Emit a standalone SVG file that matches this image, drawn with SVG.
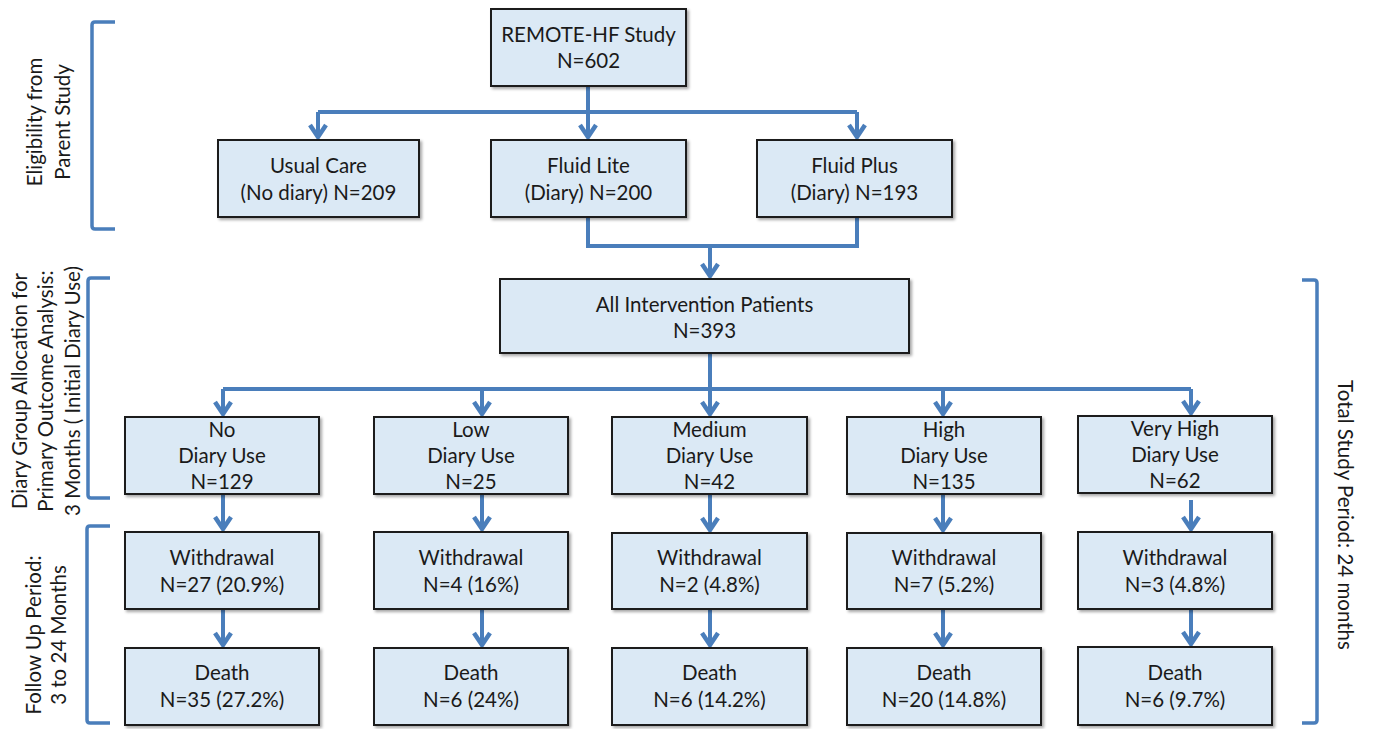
<svg xmlns="http://www.w3.org/2000/svg" width="1373" height="729" viewBox="0 0 1373 729">
<defs>
<style>
.box{fill:#dbe9f5;stroke:#1a1a1a;stroke-width:2;filter:url(#sh)}
.t{font-family:Lato,"Open Sans","Liberation Sans",sans-serif;font-size:20.5px;fill:#1a1a1a;text-anchor:middle}
.c{fill:none;stroke:#4a7ebb;stroke-width:4}
.a{marker-end:url(#arr)}
.br{fill:none;stroke:#4a7ebb;stroke-width:3.5;stroke-linejoin:round}
</style>
<filter id="sh" x="-5%" y="-5%" width="115%" height="120%">
<feDropShadow dx="2" dy="2" stdDeviation="1.5" flood-color="#000" flood-opacity="0.35"/>
</filter>
<marker id="arr" viewBox="-16 -11 20 22" refX="0" refY="0" markerWidth="20" markerHeight="22" markerUnits="userSpaceOnUse" orient="auto">
<path d="M-13,-8 L-1,0 L-13,8" fill="none" stroke="#4a7ebb" stroke-width="4.5" stroke-linejoin="miter"/>
</marker>
</defs>
<rect width="1373" height="729" fill="#fff"/>

<g id="brackets">
<path class="br" d="M115,22 H95 Q92,22 92,25 V226 Q92,229 95,229 H115"/>
<path class="br" d="M110,278 H91 Q88,278 88,281 V495 Q88,498 91,498 H110"/>
<path class="br" d="M110,526 H90 Q87,526 87,529 V720 Q87,723 90,723 H110"/>
<path class="br" d="M1302,280 H1314 Q1317,280 1317,283 V720 Q1317,723 1314,723 H1302"/>
</g>

<g id="side-labels">
<text class="t" transform="translate(42,122) rotate(-90)">Eligibility from</text>
<text class="t" transform="translate(70,122) rotate(-90)">Parent Study</text>
<text class="t" transform="translate(27,391) rotate(-90)">Diary Group Allocation  for</text>
<text class="t" transform="translate(53,391) rotate(-90)">Primary Outcome Analysis:</text>
<text class="t" transform="translate(80,391) rotate(-90)">3 Months ( Initial Diary Use)</text>
<text class="t" transform="translate(41,635) rotate(-90)">Follow Up Period:</text>
<text class="t" transform="translate(66,635) rotate(-90)">3 to 24 Months</text>
<text class="t" transform="translate(1338,515) rotate(90)">Total Study Period: 24 months</text>
</g>

<g id="connectors">
<path class="c" d="M318,112 H857"/>
<path class="c a" d="M588,86 V138"/>
<path class="c a" d="M318,112 V138"/>
<path class="c a" d="M857,112 V138"/>
<path class="c" d="M588,217 V246 H857 V217"/>
<path class="c a" d="M710,246 V277"/>
<path class="c" d="M710,353 V389"/>
<path class="c" d="M223,389 H1191"/>
<path class="c a" d="M223,389 V415"/>
<path class="c a" d="M482,389 V415"/>
<path class="c a" d="M710,389 V415"/>
<path class="c a" d="M943,389 V415"/>
<path class="c a" d="M1191,389 V414"/>
<path class="c a" d="M223,494 V530"/>
<path class="c a" d="M482,494 V530"/>
<path class="c a" d="M710,494 V531"/>
<path class="c a" d="M943,494 V531"/>
<path class="c a" d="M1191,500 V530"/>
<path class="c a" d="M223,609 V646"/>
<path class="c a" d="M482,609 V646"/>
<path class="c a" d="M710,609 V646"/>
<path class="c a" d="M943,609 V646"/>
<path class="c a" d="M1191,609 V645"/>
</g>

<g id="n-remote">
<rect class="box" x="491" y="9" width="195" height="77"/>
<text class="t" x="588.5" y="42">REMOTE-HF Study</text>
<text class="t" x="588.5" y="68">N=602</text>
</g>
<g id="n-usual">
<rect class="box" x="218" y="140" width="201" height="77"/>
<text class="t" x="318.5" y="173">Usual Care</text>
<text class="t" x="318.5" y="200">(No diary) N=209</text>
</g>
<g id="n-lite">
<rect class="box" x="491" y="140" width="195" height="77"/>
<text class="t" x="588.5" y="173">Fluid Lite</text>
<text class="t" x="588.5" y="200">(Diary) N=200</text>
</g>
<g id="n-plus">
<rect class="box" x="757" y="140" width="195" height="77"/>
<text class="t" x="854.5" y="173">Fluid Plus</text>
<text class="t" x="854.5" y="200">(Diary) N=193</text>
</g>
<g id="n-all">
<rect class="box" x="500" y="279" width="409" height="74"/>
<text class="t" x="704.5" y="312">All Intervention Patients</text>
<text class="t" x="704.5" y="338">N=393</text>
</g>

<g id="n-no">
<rect class="box" x="125" y="417" width="194" height="77"/>
<text class="t" x="222" y="437">No</text>
<text class="t" x="222" y="463">Diary Use</text>
<text class="t" x="222" y="489">N=129</text>
</g>
<g id="n-low">
<rect class="box" x="374" y="417" width="194" height="77"/>
<text class="t" x="471" y="437">Low</text>
<text class="t" x="471" y="463">Diary Use</text>
<text class="t" x="471" y="489">N=25</text>
</g>
<g id="n-medium">
<rect class="box" x="612" y="417" width="195" height="77"/>
<text class="t" x="709.5" y="437">Medium</text>
<text class="t" x="709.5" y="463">Diary Use</text>
<text class="t" x="709.5" y="489">N=42</text>
</g>
<g id="n-high">
<rect class="box" x="847" y="417" width="194" height="77"/>
<text class="t" x="944" y="437">High</text>
<text class="t" x="944" y="463">Diary Use</text>
<text class="t" x="944" y="489">N=135</text>
</g>
<g id="n-veryhigh">
<rect class="box" x="1078" y="416" width="194" height="77"/>
<text class="t" x="1175" y="436">Very High</text>
<text class="t" x="1175" y="462">Diary Use</text>
<text class="t" x="1175" y="488">N=62</text>
</g>

<g id="w-no">
<rect class="box" x="125" y="532" width="194" height="77"/>
<text class="t" x="222" y="565">Withdrawal</text>
<text class="t" x="222" y="592">N=27 (20.9%)</text>
</g>
<g id="w-low">
<rect class="box" x="374" y="532" width="194" height="77"/>
<text class="t" x="471" y="565">Withdrawal</text>
<text class="t" x="471" y="592">N=4 (16%)</text>
</g>
<g id="w-medium">
<rect class="box" x="612" y="533" width="195" height="76"/>
<text class="t" x="709.5" y="565">Withdrawal</text>
<text class="t" x="709.5" y="592">N=2 (4.8%)</text>
</g>
<g id="w-high">
<rect class="box" x="847" y="533" width="194" height="76"/>
<text class="t" x="944" y="565">Withdrawal</text>
<text class="t" x="944" y="592">N=7 (5.2%)</text>
</g>
<g id="w-veryhigh">
<rect class="box" x="1078" y="532" width="194" height="77"/>
<text class="t" x="1175" y="565">Withdrawal</text>
<text class="t" x="1175" y="592">N=3 (4.8%)</text>
</g>

<g id="d-no">
<rect class="box" x="125" y="648" width="194" height="77"/>
<text class="t" x="222" y="680">Death</text>
<text class="t" x="222" y="707">N=35 (27.2%)</text>
</g>
<g id="d-low">
<rect class="box" x="374" y="648" width="194" height="77"/>
<text class="t" x="471" y="680">Death</text>
<text class="t" x="471" y="707">N=6 (24%)</text>
</g>
<g id="d-medium">
<rect class="box" x="612" y="648" width="195" height="77"/>
<text class="t" x="709.5" y="680">Death</text>
<text class="t" x="709.5" y="707">N=6 (14.2%)</text>
</g>
<g id="d-high">
<rect class="box" x="847" y="648" width="194" height="77"/>
<text class="t" x="944" y="680">Death</text>
<text class="t" x="944" y="707">N=20 (14.8%)</text>
</g>
<g id="d-veryhigh">
<rect class="box" x="1078" y="647" width="194" height="78"/>
<text class="t" x="1175" y="680">Death</text>
<text class="t" x="1175" y="707">N=6 (9.7%)</text>
</g>
</svg>
